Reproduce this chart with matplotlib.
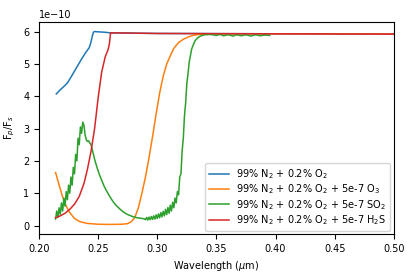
import matplotlib
matplotlib.use("Agg")
import matplotlib.pyplot as plt
import numpy as np

SCALE = 1e-10

labels = [
    r"99% N$_2$ + 0.2% O$_2$",
    r"99% N$_2$ + 0.2% O$_2$ + 5e-7 O$_3$",
    r"99% N$_2$ + 0.2% O$_2$ + 5e-7 SO$_2$",
    r"99% N$_2$ + 0.2% O$_2$ + 5e-7 H$_2$S",
]

blue_x = [0.2146, 0.218, 0.221, 0.224, 0.228, 0.232, 0.236, 0.240, 0.2423, 0.2437,
          0.2450, 0.2460, 0.247, 0.250, 0.255, 0.260, 0.30, 0.40, 0.50]
blue_y = [4.07, 4.20, 4.30, 4.41, 4.65, 4.90, 5.15, 5.38, 5.49, 5.64,
          5.85, 5.98, 6.00, 5.99, 5.98, 5.96, 5.94, 5.93, 5.92]

orange_x = [0.214, 0.217, 0.220, 0.223, 0.226, 0.230, 0.234, 0.240, 0.250, 0.260,
            0.270, 0.275, 0.278, 0.281, 0.284, 0.287, 0.290, 0.293, 0.296, 0.299,
            0.302, 0.305, 0.308, 0.311, 0.314, 0.318, 0.322, 0.326, 0.330, 0.335,
            0.340, 0.345, 0.350, 0.400, 0.500]
orange_y = [1.64, 1.25, 0.88, 0.60, 0.40, 0.22, 0.13, 0.07, 0.04, 0.035,
            0.04, 0.06, 0.12, 0.25, 0.55, 1.00, 1.50, 2.10, 2.75, 3.45,
            4.10, 4.62, 5.00, 5.25, 5.48, 5.66, 5.76, 5.83, 5.88, 5.91,
            5.92, 5.93, 5.93, 5.93, 5.92]

green_x = [0.214, 0.215, 0.216, 0.217, 0.218, 0.219, 0.220, 0.221, 0.222, 0.223,
           0.224, 0.225, 0.226, 0.227, 0.228, 0.229, 0.230, 0.231, 0.232, 0.233,
           0.234, 0.235, 0.236, 0.237, 0.238, 0.239, 0.240, 0.241, 0.242, 0.243,
           0.244, 0.245, 0.247, 0.249, 0.251, 0.253, 0.255, 0.257, 0.259, 0.261,
           0.263, 0.265, 0.267, 0.269, 0.271, 0.273, 0.275, 0.277, 0.279, 0.281,
           0.283, 0.285, 0.287, 0.289, 0.290, 0.291, 0.292, 0.293, 0.294, 0.295,
           0.296, 0.297, 0.298, 0.299, 0.300, 0.301, 0.302, 0.303, 0.304, 0.305,
           0.306, 0.307, 0.308, 0.309, 0.310, 0.311, 0.312, 0.313, 0.314, 0.315,
           0.316, 0.317, 0.318, 0.319, 0.320, 0.321, 0.322, 0.323, 0.324, 0.325,
           0.326, 0.327, 0.328, 0.329, 0.330, 0.332, 0.334, 0.336, 0.338, 0.340,
           0.345, 0.350, 0.353, 0.356, 0.360, 0.364, 0.367, 0.371, 0.375, 0.379,
           0.383, 0.387, 0.391, 0.395]
green_y = [0.20, 0.45, 0.25, 0.55, 0.35, 0.70, 0.45, 0.85, 0.60, 1.05,
           0.80, 1.25, 1.00, 1.50, 1.25, 1.80, 1.60, 2.20, 2.00, 2.70,
           2.50, 3.05, 2.85, 3.20, 3.10, 2.80, 2.65, 2.60, 2.62, 2.55,
           2.50, 2.35, 2.05, 1.80, 1.58, 1.40, 1.22, 1.08, 0.95, 0.83,
           0.72, 0.63, 0.56, 0.49, 0.43, 0.38, 0.34, 0.31, 0.28, 0.26,
           0.24, 0.23, 0.22, 0.21, 0.18, 0.25, 0.17, 0.26, 0.18, 0.28,
           0.19, 0.30, 0.20, 0.33, 0.22, 0.36, 0.24, 0.40, 0.27, 0.44,
           0.30, 0.50, 0.34, 0.56, 0.38, 0.63, 0.45, 0.72, 0.55, 0.85,
           0.70, 1.05, 0.95, 1.50, 1.60, 2.30, 2.70, 3.40, 3.80, 4.40,
           4.70, 5.05, 5.25, 5.45, 5.55, 5.72, 5.80, 5.85, 5.88, 5.90,
           5.91, 5.88, 5.91, 5.87, 5.90, 5.86, 5.90, 5.87, 5.90, 5.86,
           5.90, 5.87, 5.89, 5.88]

red_x = [0.214, 0.218, 0.222, 0.226, 0.230, 0.234, 0.238, 0.241, 0.244, 0.247,
         0.250, 0.253, 0.256, 0.2585, 0.2595, 0.2605, 0.30, 0.40, 0.50]
red_y = [0.24, 0.30, 0.38, 0.50, 0.66, 0.90, 1.30, 1.75, 2.30, 3.00,
         3.95, 4.75, 5.22, 5.45, 5.62, 5.96, 5.94, 5.93, 5.92]

series = [(blue_x, blue_y), (orange_x, orange_y), (green_x, green_y), (red_x, red_y)]
colors = ["#1f77b4", "#ff7f0e", "#2ca02c", "#d62728"]

plt.rcParams["font.size"] = 7
fig = plt.figure(figsize=(4.15, 2.77), dpi=100)
ax = fig.add_axes([0.094, 0.155, 0.855, 0.766])
for (xs, ys), c, lab in zip(series, colors, labels):
    ax.plot(xs, np.array(ys) * SCALE, color=c, lw=1.1, label=lab)

ax.set_xlim(0.2, 0.5)
ax.set_xlabel(r"Wavelength ($\mu$m)")
ax.set_ylabel(r"F$_p$/F$_s$")
ax.legend(loc="lower right", fontsize=7, labelspacing=0.15, borderaxespad=0.35)
fig.savefig("out.png", dpi=100)
